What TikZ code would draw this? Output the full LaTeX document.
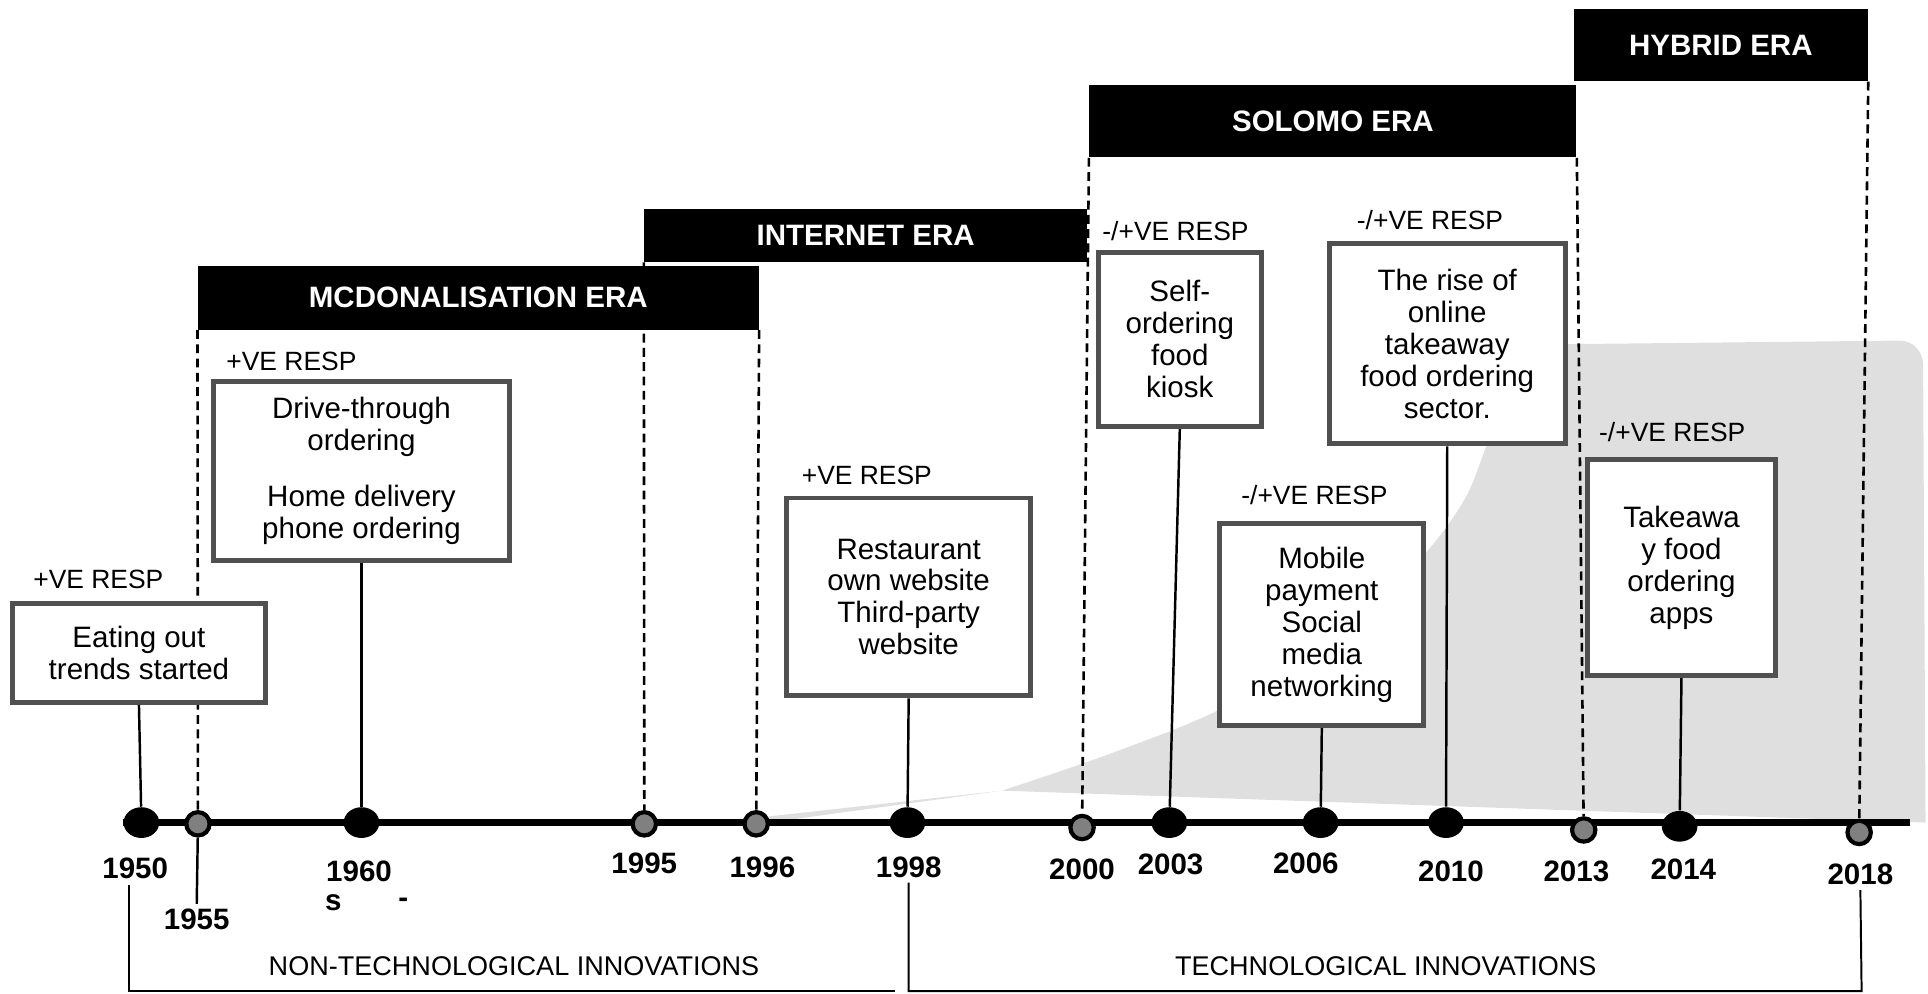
\documentclass[tikz,border=0pt]{standalone}
\usepackage{fontspec}
\setmainfont{Liberation Sans}
\usetikzlibrary{shapes.geometric,backgrounds}
\definecolor{boxgrey}{HTML}{505050}
\definecolor{areagrey}{HTML}{DFDFDF}
\definecolor{dotgrey}{HTML}{808080}

\begin{document}
\begin{tikzpicture}[x=0.5pt,y=-0.5pt,
  era/.style={fill=black, text=white, font=\bfseries\fontsize{12}{14}\selectfont, inner sep=0pt},
  evbox/.style={draw=boxgrey, line width=2pt, fill=white, align=center, inner sep=0pt,
                font=\fontsize{12}{13}\selectfont},
  resp/.style={font=\fontsize{10.75}{12}\selectfont, inner sep=0pt},
  yr/.style={font=\bfseries\fontsize{12}{14}\selectfont, inner sep=2pt},
  cat/.style={font=\fontsize{11}{13}\selectfont, inner sep=0pt},
  bigdot/.style={ellipse, fill=black, minimum width=14.5pt, minimum height=12.5pt, inner sep=0pt},
  smalldot/.style={circle, fill=dotgrey, draw=black, line width=1.7pt, minimum size=9.5pt, inner sep=0pt},
  eraline/.style={line width=1.05pt, dash pattern=on 3.6pt off 2.2pt},
  conn/.style={line width=1pt},
  axis/.style={line width=2.6pt},
  bracket/.style={line width=0.8pt}
]
\useasboundingbox (0,0) rectangle (1568,808);

% era bars
\node[era, minimum width=228pt, minimum height=26pt] (mcd) at (389,242) {MCDONALISATION ERA};
\node[era, minimum width=180pt, minimum height=21.5pt] (int) at (704,191.5) {INTERNET ERA};
\node[era, minimum width=198pt, minimum height=29.5pt] (sol) at (1084,98.5) {SOLOMO ERA};
\node[era, minimum width=119.5pt, minimum height=29.5pt] (hyb) at (1399.5,36.5) {HYBRID ERA};

% event boxes
\node[evbox, minimum width=103pt, minimum height=40pt] (b1950) at (113,531) {Eating out\\trends started};
\node[evbox, minimum width=120pt, minimum height=73pt] (b1960) at (294,383) {Drive-through\\ordering\\[10pt]Home delivery\\phone ordering};
\node[evbox, minimum width=99pt, minimum height=80.5pt] (b1998) at (739,485.5) {Restaurant\\own website\\Third-party\\website};
\node[evbox, minimum width=66.5pt, minimum height=71pt] (b2003) at (959.5,276) {Self-\\ordering\\food\\kiosk};
\node[evbox, minimum width=83pt, minimum height=82pt] (b2006) at (1075,508) {Mobile\\payment\\Social\\media\\networking};
\node[evbox, minimum width=96pt, minimum height=81.5pt] (b2010) at (1177,279.5) {The rise of\\online\\takeaway\\food ordering\\sector.};
\node[evbox, minimum width=76.5pt, minimum height=87.5pt] (b2014) at (1367.5,461.5) {Takeawa\\y food\\ordering\\apps};

% response labels
\node[resp] (r1950) at (80,471) {+VE RESP};
\node[resp] (r1960) at (237,294) {+VE RESP};
\node[resp] (r1998) at (705,387) {+VE RESP};
\node[resp] (r2003) at (956,188) {-/+VE RESP};
\node[resp] (r2006) at (1069,403) {-/+VE RESP};
\node[resp] (r2010) at (1163,179) {-/+VE RESP};
\node[resp] (r2014) at (1360,351) {-/+VE RESP};

% milestones on the axis
\node[bigdot] (d1950) at (115,669) {};
\node[smalldot] (d1955) at (161,670) {};
\node[bigdot] (d1960) at (294,669) {};
\node[smalldot] (d1995) at (524,670) {};
\node[smalldot] (d1996) at (615,670) {};
\node[bigdot] (d1998) at (738,669) {};
\node[smalldot] (d2000) at (880,673) {};
\node[bigdot] (d2003) at (951,669) {};
\node[bigdot] (d2006) at (1074,669) {};
\node[bigdot] (d2010) at (1176,669) {};
\node[smalldot] (d2013) at (1288,675) {};
\node[bigdot] (d2014) at (1366,672) {};
\node[smalldot] (d2018) at (1512,677) {};

% year labels
\node[yr] (y1950) at (110,706) {1950};
\node[yr] (y1955) at (160,748) {1955};
\node[yr] (y1960) at (292,709) {1960};
\node[yr] (y1960s) at (271,734) {s};
\node[yr] (y1960d) at (328,734) {-};
\node[yr] (y1995) at (524,702) {1995};
\node[yr] (y1996) at (620,705) {1996};
\node[yr] (y1998) at (739,705) {1998};
\node[yr] (y2000) at (880,707) {2000};
\node[yr] (y2003) at (952,703) {2003};
\node[yr] (y2006) at (1062,702) {2006};
\node[yr] (y2010) at (1180,709) {2010};
\node[yr] (y2013) at (1282,709) {2013};
\node[yr] (y2014) at (1369,707) {2014};
\node[yr] (y2018) at (1513,711) {2018};

% category labels
\node[cat] (nontech) at (418,786) {NON-TECHNOLOGICAL INNOVATIONS};
\node[cat] (tech) at (1127,786) {TECHNOLOGICAL INNOVATIONS};

% axis ends and bracket corners
\coordinate (axisL) at (100,669);
\coordinate (axisR) at (1553,669);
\coordinate (ntTop) at (105,720);
\coordinate (ntEnd) at (728,806);
\coordinate (tkCorner) at (1514,806);

\begin{pgfonlayer}{background}
  % shaded growth area
  \fill[areagrey] (625,669) -- (625,664) -- (815,643)
    plot[smooth, tension=0.55] coordinates {(815,643) (900,614) (990,578) (1075,528) (1150,460) (1190,408) (1210,360) (1235,300) (1265,280)}
    -- (1545,277) to[out=0,in=92] (1564,296) -- (1566,669) -- cycle;
  % time axis
  \draw[axis] (axisL) -- (axisR);
  % era boundaries
  \draw[eraline] (mcd.south west) -- (d1955);
  \draw[eraline] (int.south west) -- (d1995);
  \draw[eraline] (mcd.south east) -- (d1996);
  \draw[eraline] (sol.south west) -- (d2000);
  \draw[eraline] (sol.south east) -- (d2013);
  \draw[eraline] (hyb.south east) -- (d2018);
  % event stems
  \draw[conn] (b1950.south) -- (d1950);
  \draw[conn] (b1960.south) -- (d1960);
  \draw[conn] (b1998.south) -- (d1998);
  \draw[conn] (b2003.south) -- (d2003);
  \draw[conn] (b2006.south) -- (d2006);
  \draw[conn] (b2010.south) -- (d2010);
  \draw[conn] (b2014.south) -- (d2014);
  \draw[conn] (d1955) -- (y1955.north);
  % innovation brackets
  \draw[bracket] (ntTop) |- (ntEnd);
  \draw[bracket] (y1998.south) |- (tkCorner) -- (y2018.south);
\end{pgfonlayer}
\end{tikzpicture}
\end{document}
